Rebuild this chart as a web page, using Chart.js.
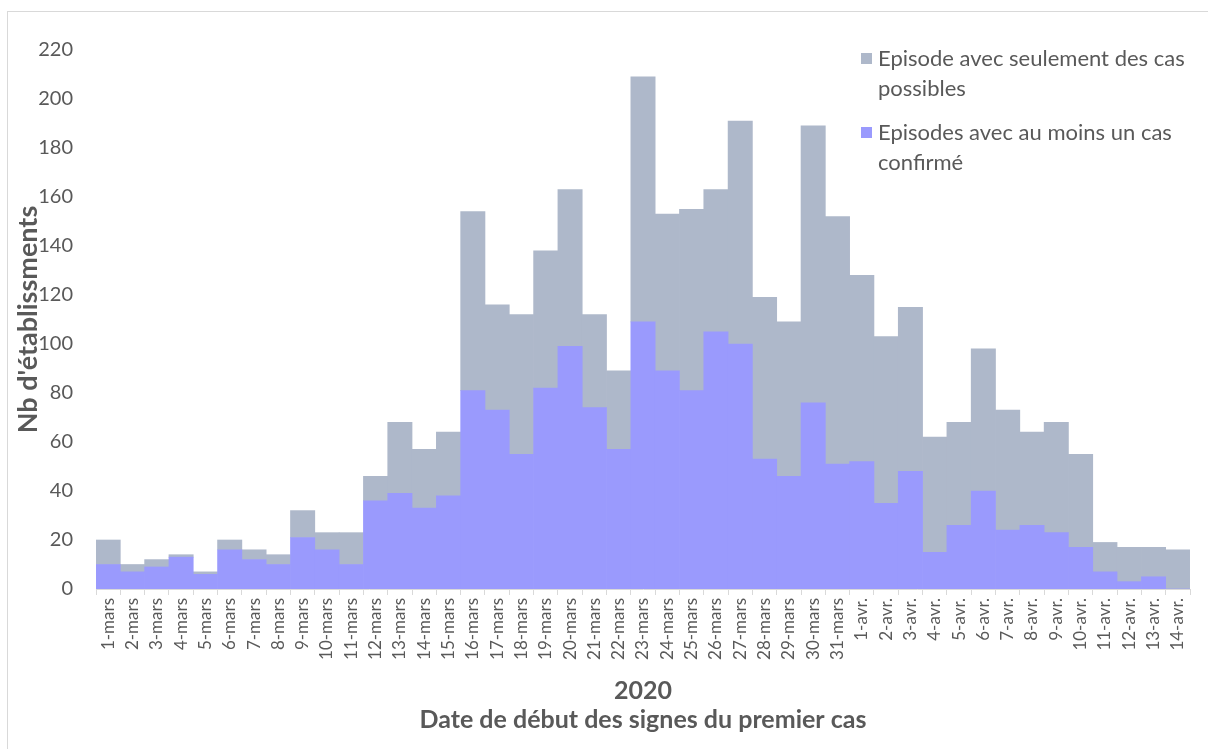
<!DOCTYPE html>
<html lang="fr">
<head>
  <meta charset="UTF-8">
  <title>Episodes par date de début des signes</title>
  <script src="https://cdn.jsdelivr.net/npm/chart.js"></script>
  <style>
    html, body { margin: 0; padding: 0; background: #fff; overflow: hidden; }
    #wrap { position: relative; width: 1208px; height: 749px; }
    #frame {
      position: absolute; left: 7px; top: 11px; width: 1260px; height: 800px;
      border: 1px solid #d9d9d9; pointer-events: none;
    }
    #legend {
      position: absolute; left: 861px; top: 43px;
      font-family: Lato, "Open Sans", sans-serif; font-size: 22px; color: #595959;
    }
    .item { display: flex; align-items: flex-start; margin-bottom: 14px; line-height: 30px; }
    .box { width: 11px; height: 11px; margin-top: 10px; margin-right: 6px; flex: none; }
  </style>
</head>
<body>
  <div id="wrap">
    <canvas id="chart" width="1208" height="749"></canvas>
    <div id="frame"></div>
    <div id="legend"></div>
  </div>

  <script>
    // jours (mars - avril 2020)
    const categories = [
      '1-mars', '2-mars', '3-mars', '4-mars', '5-mars', '6-mars', '7-mars', '8-mars', '9-mars', '10-mars',
      '11-mars', '12-mars', '13-mars', '14-mars', '15-mars', '16-mars', '17-mars', '18-mars', '19-mars', '20-mars',
      '21-mars', '22-mars', '23-mars', '24-mars', '25-mars', '26-mars', '27-mars', '28-mars', '29-mars', '30-mars',
      '31-mars', '1-avr.', '2-avr.', '3-avr.', '4-avr.', '5-avr.', '6-avr.', '7-avr.', '8-avr.', '9-avr.',
      '10-avr.', '11-avr.', '12-avr.', '13-avr.', '14-avr.'
    ];

    // episodes avec au moins un cas confirmé
    const confirmes = [
      10, 7, 9, 13, 6, 16, 12, 10, 21, 16,
      10, 36, 39, 33, 38, 81, 73, 55, 82, 99,
      74, 57, 109, 89, 81, 105, 100, 53, 46, 76,
      51, 52, 35, 48, 15, 26, 40, 24, 26, 23,
      17, 7, 3, 5, 0
    ];

    // episodes avec seulement des cas possibles
    const possibles = [
      10, 3, 3, 1, 1, 4, 4, 4, 11, 7,
      13, 10, 29, 24, 26, 73, 43, 57, 56, 64,
      38, 32, 100, 64, 74, 58, 91, 66, 63, 113,
      101, 76, 68, 67, 47, 42, 58, 49, 38, 45,
      38, 12, 14, 12, 16
    ];

    const yTicks = [0, 20, 40, 60, 80, 100, 120, 140, 160, 180, 200, 220];

    const grey = '#595959';
    const fontFamily = 'Lato, "Open Sans", sans-serif';

    const datasets = [
      {
        label: 'Episodes avec au moins un cas confirmé',
        legendLines: ['Episodes avec au moins un cas', 'confirmé'],
        data: confirmes,
        backgroundColor: '#9a9afd'
      },
      {
        label: 'Episode avec seulement des cas possibles',
        legendLines: ['Episode avec seulement des cas', 'possibles'],
        data: possibles,
        backgroundColor: '#aeb8ca'
      }
    ];

    const chart = new Chart(document.getElementById('chart'), {
      type: 'bar',
      data: {
        labels: categories,
        datasets: datasets.map(d => ({
          label: d.label,
          data: d.data,
          backgroundColor: d.backgroundColor,
          borderWidth: 0,
          barPercentage: 1,
          categoryPercentage: 1
        }))
      },
      options: {
        responsive: false,
        animation: false,
        devicePixelRatio: 1,
        layout: { padding: { top: 50, right: 18, left: 0, bottom: 0 } },
        plugins: {
          legend: { display: false },
          tooltip: { enabled: false }
        },
        scales: {
          x: {
            stacked: true,
            grid: {
              display: true,
              drawOnChartArea: false,
              drawTicks: true,
              tickLength: 6,
              offset: true,
              color: '#d9d9d9'
            },
            border: { display: true, color: '#d9d9d9', width: 1 },
            ticks: {
              autoSkip: false,
              minRotation: 90,
              maxRotation: 90,
              padding: 3,
              color: grey,
              font: { family: fontFamily, size: 17 }
            },
            title: {
              display: true,
              text: ['2020', 'Date de début des signes du premier cas'],
              color: grey,
              font: { family: fontFamily, size: 25, weight: 'bold', lineHeight: 1.16 },
              padding: { top: 0, bottom: 15 }
            },
            afterFit: scale => { scale.height = 160; }
          },
          y: {
            stacked: true,
            min: 0,
            max: yTicks[yTicks.length - 1],
            grid: { display: false, drawTicks: false },
            border: { display: false },
            afterBuildTicks: scale => { scale.ticks = yTicks.map(v => ({ value: v })); },
            ticks: {
              padding: 23,
              color: grey,
              font: { family: fontFamily, size: 20 }
            },
            title: {
              display: true,
              text: "Nb d'établissments",
              color: grey,
              font: { family: fontFamily, size: 27, weight: 'bold' },
              padding: { top: 12, bottom: 0 }
            },
            afterFit: scale => { scale.width = 96; }
          }
        }
      }
    });

    // legende en html, texte sur deux lignes comme l'original
    const legend = document.getElementById('legend');
    datasets.slice().reverse().forEach(d => {
      const item = document.createElement('div');
      item.className = 'item';
      item.innerHTML = '<span class="box" style="background:' + d.backgroundColor + '"></span>' +
        '<span>' + d.legendLines.join('<br>') + '</span>';
      legend.appendChild(item);
    });
  </script>
</body>
</html>
